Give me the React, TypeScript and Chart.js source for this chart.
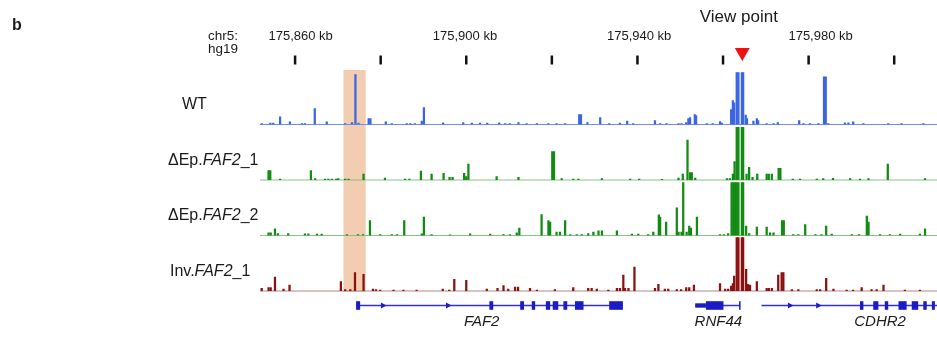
import React, { useEffect, useRef } from 'react';
import { Chart, registerables } from 'chart.js';

Chart.register(...registerables);

const FONT = '"Liberation Sans", Arial, Helvetica, sans-serif';

// genomic window (kb on chr5, hg19)
const X_MIN = 175851.8;
const X_MAX = 176010;
const RULER_TICKS = [175860, 175880, 175900, 175920, 175940, 175960, 175980, 176000];
const RULER_LABELS = ['175,860 kb', '175,900 kb', '175,940 kb', '175,980 kb'];
const RULER_LABEL_POS = [175861.3, 175899.7, 175940.4, 175982.8];
const VIEW_POINT = 175964.5;
const HIGHLIGHT = [175871.3, 175876.5];

// 4C signal: [position kb, signal]
const WT_SIGNAL: [number, number][] = [
  [175852.2, 1], [175854.2, 1.5], [175854.9, 1.5], [175856.5, 7.7], [175858.8, 2.7], [175861.6, 1], [175862.3, 1],
  [175864.6, 16], [175867.4, 2.7], [175871.7, 1], [175873.3, 2], [175874.1, 50], [175874.8, 1.5], [175877.2, 6],
  [175877.6, 6], [175881.2, 2.7], [175882.6, 1], [175886.1, 1], [175886.9, 1], [175888.0, 1], [175889.6, 3.3],
  [175890.1, 17], [175894.6, 1.7], [175899.3, 2], [175901.3, 1.5], [175903.2, 1.5], [175904.9, 1.5], [175907.7, 1.7],
  [175909.1, 1], [175910.2, 1], [175912.2, 2], [175914.1, 1], [175916.5, 1], [175919.2, 0.8], [175921.1, 0.8],
  [175923.1, 0.8], [175926.4, 10], [175926.8, 10], [175928.3, 2], [175931.3, 7], [175933.4, 1], [175935.9, 1.5],
  [175937.6, 3.3], [175939.0, 1], [175944.1, 4], [175945.3, 1], [175946.8, 1], [175949.6, 1], [175950.3, 1],
  [175951.4, 2], [175951.9, 6], [175952.3, 7], [175953.4, 10], [175953.7, 9], [175956.2, 1], [175957.6, 1],
  [175959.3, 3], [175959.7, 1.5], [175961.9, 15], [175962.3, 24], [175962.6, 21.7], [175963.2, 52], [175963.6, 52],
  [175964.4, 52], [175964.7, 52], [175965.3, 9.3], [175965.6, 6], [175967.1, 3.3], [175967.9, 6], [175968.2, 4],
  [175970.2, 1], [175971.8, 1], [175972.8, 2], [175977.8, 4], [175978.8, 1], [175980.3, 1], [175982.3, 1],
  [175983.6, 47.7], [175984.0, 47.7], [175984.6, 1], [175988.5, 1.7], [175989.3, 1.7], [175990.4, 2.7], [175992.8, 1],
  [175998.6, 1], [176001.7, 0.8], [176006.8, 0.8],
];

const DEP1_SIGNAL: [number, number][] = [
  [175853.8, 9.3], [175854.2, 9.3], [175856.5, 1], [175863.7, 9.3], [175864.7, 1.3], [175867.0, 1], [175867.8, 1],
  [175868.6, 1], [175869.6, 1], [175870.1, 1.3], [175871.7, 1], [175872.5, 0.8], [175876.0, 6], [175881.0, 2],
  [175885.7, 0.8], [175886.7, 0.8], [175889.4, 9], [175891.9, 6], [175894.7, 6.7], [175896.1, 2.7], [175896.8, 2.7],
  [175899.5, 6.7], [175900.0, 3.3], [175900.5, 16], [175907.1, 3.3], [175912.2, 2.7], [175920.1, 28.3], [175920.5, 28.3],
  [175922.3, 1.3], [175925.0, 1], [175926.2, 1], [175931.7, 1.3], [175938.3, 1], [175940.4, 1], [175945.7, 0.7],
  [175949.6, 2], [175950.6, 6], [175951.7, 40], [175952.3, 7.3], [175952.7, 7.3], [175953.5, 2], [175960.9, 1.3],
  [175961.6, 1.3], [175962.3, 6], [175962.7, 18.3], [175963.2, 52.7], [175963.6, 52.7], [175964.4, 52.7], [175964.7, 52.7],
  [175965.5, 6], [175966.1, 12.7], [175966.9, 2.7], [175968.0, 6], [175970.2, 6], [175970.7, 6], [175971.4, 6],
  [175973.0, 11.7], [175973.4, 11.7], [175976.3, 0.8], [175978.0, 0.8], [175981.9, 1], [175983.4, 1.3], [175985.7, 1.7],
  [175989.7, 1.3], [175992.0, 1], [175994.0, 1.3], [175998.5, 16], [176007.2, 1.3],
];

const DEP2_SIGNAL: [number, number][] = [
  [175853.8, 2.7], [175854.3, 2.7], [175855.3, 6.7], [175856.0, 2], [175858.4, 2], [175862.3, 1.7], [175863.1, 1.7],
  [175865.1, 1.3], [175866.2, 1.3], [175872.1, 1], [175874.7, 1], [175875.9, 1], [175877.5, 15], [175879.9, 1],
  [175882.6, 1], [175883.8, 1], [175885.5, 15], [175889.6, 1.7], [175890.1, 18.3], [175891.9, 1], [175896.2, 0.7],
  [175900.9, 1.7], [175905.6, 1.3], [175908.7, 1], [175910.2, 1], [175911.8, 2.7], [175912.4, 7.3], [175917.6, 21],
  [175919.2, 15], [175919.6, 13.3], [175921.1, 3.3], [175921.9, 3.3], [175923.1, 15], [175924.3, 1], [175925.8, 1],
  [175927.0, 1], [175928.5, 2], [175929.7, 3.3], [175930.9, 4.7], [175931.7, 4.7], [175935.2, 4.7], [175938.7, 1.3],
  [175940.2, 1.3], [175942.5, 1], [175943.7, 3.3], [175945.0, 20.7], [175945.3, 18.3], [175946.7, 13.3], [175949.2, 27.7],
  [175949.6, 3.3], [175950.3, 3.3], [175950.7, 53], [175951.5, 3.3], [175952.1, 9.3], [175952.5, 7.3], [175953.9, 18.3],
  [175959.3, 1], [175960.2, 1], [175961.2, 2], [175962.0, 53], [175962.4, 53], [175962.8, 53], [175963.2, 53],
  [175963.6, 53], [175964.4, 53], [175964.7, 53], [175965.4, 9.3], [175966.1, 2], [175967.9, 8.3], [175970.2, 8.3],
  [175971.0, 2.7], [175971.8, 2.7], [175973.8, 15], [175974.2, 15], [175976.4, 1], [175977.6, 1], [175979.2, 11],
  [175981.6, 1], [175983.0, 1], [175984.1, 9.3], [175985.4, 1.3], [175990.1, 1], [175991.8, 1], [175993.6, 19.3],
  [175994.0, 13.3], [175996.7, 1], [175999.0, 1], [176001.4, 1.3], [176006.0, 1.3], [176007.2, 6.7],
];

const INV1_SIGNAL: [number, number][] = [
  [175852.2, 2.7], [175853.8, 3.3], [175854.3, 3.3], [175855.3, 14], [175857.3, 2], [175858.7, 6], [175870.7, 9.3],
  [175871.7, 1.3], [175872.9, 1.3], [175874.0, 18.3], [175876.0, 16.7], [175878.2, 2], [175878.9, 1.3], [175879.9, 1],
  [175883.0, 1], [175885.3, 1], [175888.4, 1], [175894.5, 2], [175896.0, 1], [175897.2, 11.7], [175900.0, 10.7],
  [175904.8, 2], [175907.3, 2.7], [175908.7, 5.3], [175909.8, 2], [175911.4, 4], [175912.1, 4], [175914.9, 2.7],
  [175916.5, 1], [175920.7, 1.3], [175925.0, 3.3], [175928.5, 2.7], [175929.3, 2.7], [175930.5, 2], [175933.2, 1],
  [175935.2, 2.7], [175935.9, 2.7], [175936.7, 16], [175937.1, 2.7], [175937.9, 2.7], [175939.3, 24], [175944.1, 2.7],
  [175944.9, 6.7], [175946.4, 2], [175947.2, 2], [175949.2, 1.3], [175950.2, 1.3], [175951.4, 3.3], [175952.1, 3.3],
  [175953.2, 6], [175959.3, 7.3], [175960.5, 2], [175961.2, 2], [175961.9, 5], [175962.3, 7.3], [175962.6, 15],
  [175963.2, 53.3], [175963.6, 53.3], [175964.4, 53.3], [175964.7, 53.3], [175965.4, 21.7], [175965.8, 6.7], [175966.3, 6],
  [175967.9, 9.3], [175970.2, 2.7], [175970.7, 2.7], [175971.4, 2.7], [175972.9, 16], [175973.7, 18.3], [175974.1, 18.3],
  [175976.1, 1.3], [175977.6, 1.3], [175981.9, 1.3], [175982.7, 1.3], [175984.1, 12.7], [175985.8, 2], [175988.9, 1],
  [175990.4, 1], [175992.4, 3.3], [175994.7, 1.3], [175995.9, 1.3], [175997.5, 6], [176002.5, 1], [176006.0, 1],
];

// track scale maxima (signal units)
const TRACK_MAX = [55, 55.5, 55.5, 55.5];
const GENE_TRACK_MAX = 46;

// gene models (kb)
const FAF2_SPAN = [175874.25, 175936.6];
const FAF2_EXONS: [number, number][] = [
  [175874.25, 175875.2], [175905.4, 175906.3], [175912.6, 175913.5], [175915.3, 175916.1], [175918.6, 175919.6],
  [175920.2, 175921.5], [175922.7, 175923.6], [175925.4, 175927.4], [175933.4, 175936.6],
];
const FAF2_ARROWS = [175881.0, 175896.2];
const RNF44_SPAN = [175953.5, 175964.0];
const RNF44_UTRS: [number, number][] = [[175953.5, 175956.0]];
const RNF44_EXONS: [number, number][] = [[175956.0, 175960.1], [175963.75, 175964.1]];
const CDHR2_SPAN = [175969.0, 176010];
const CDHR2_EXONS: [number, number][] = [
  [175992.0, 175992.8], [175995.1, 175996.3], [175997.8, 175998.6], [176001.0, 176002.9], [176004.1, 176005.6],
  [176006.8, 176007.6], [176008.8, 176009.5],
];
const CDHR2_ARROWS = [175976.1, 175982.7];
const GENE_NAMES = ['FAF2', 'RNF44', 'CDHR2'];
const GENE_LABEL_POS = [175903.6, 175958.9, 175996.7];

type Seg = [string, boolean];
const TRACKS = [
  { axis: 'yWT', data: WT_SIGNAL, color: '#3b65e2', base: '#6f8ff0', labelX: 182, label: [['WT', false]] as Seg[] },
  { axis: 'yD1', data: DEP1_SIGNAL, color: '#138a13', base: '#86c386', labelX: 168, label: [['ΔEp.', false], ['FAF2', true], ['_1', false]] as Seg[] },
  { axis: 'yD2', data: DEP2_SIGNAL, color: '#138a13', base: '#86c386', labelX: 168, label: [['ΔEp.', false], ['FAF2', true], ['_2', false]] as Seg[] },
  { axis: 'yInv', data: INV1_SIGNAL, color: '#8c1010', base: '#b88585', labelX: 170, label: [['Inv.', false], ['FAF2', true], ['_1', false]] as Seg[] },
];

const GENE_COLOR = '#1c1cc6';

function drawGeneModel(chart: any, span: number[], exons: [number, number][], utrs: [number, number][], arrows: number[]) {
  const { ctx, scales } = chart;
  const x = scales.x;
  const yLine = scales.yGene.getPixelForValue(31.5);
  ctx.save();
  ctx.strokeStyle = '#3030d6';
  ctx.lineWidth = 1.5;
  ctx.beginPath();
  ctx.moveTo(x.getPixelForValue(span[0]), yLine);
  ctx.lineTo(x.getPixelForValue(span[1]), yLine);
  ctx.stroke();
  ctx.fillStyle = GENE_COLOR;
  for (const [s, e] of utrs) {
    const a = x.getPixelForValue(s), b = x.getPixelForValue(e);
    ctx.fillRect(a, yLine - 2.2, b - a, 4.4);
  }
  for (const [s, e] of exons) {
    const a = x.getPixelForValue(s), b = x.getPixelForValue(e);
    ctx.fillRect(a, yLine - 4.3, Math.max(b - a, 1.5), 8.6);
  }
  for (const p of arrows) {
    const px = x.getPixelForValue(p);
    ctx.beginPath();
    ctx.moveTo(px - 4, yLine - 3);
    ctx.lineTo(px + 1.5, yLine);
    ctx.lineTo(px - 4, yLine + 3);
    ctx.closePath();
    ctx.fill();
  }
  ctx.restore();
}

const overlayPlugin = {
  id: 'browserOverlay',
  beforeDatasetsDraw(chart: any) {
    const { ctx, scales, chartArea } = chart;
    const x = scales.x;
    ctx.save();
    const x0 = x.getPixelForValue(HIGHLIGHT[0]);
    const x1 = x.getPixelForValue(HIGHLIGHT[1]);
    const top = scales.yWT.top + 0.5;
    const bottom = scales.yInv.bottom + 1;
    ctx.fillStyle = '#f2cdb1';
    ctx.fillRect(x0, top, x1 - x0, bottom - top);
    for (const t of TRACKS) {
      const y = scales[t.axis].getPixelForValue(0);
      ctx.strokeStyle = t.base;
      ctx.lineWidth = 1;
      ctx.beginPath();
      ctx.moveTo(chartArea.left, y);
      ctx.lineTo(chartArea.right, y);
      ctx.stroke();
    }
    ctx.restore();
  },
  afterDatasetsDraw(chart: any) {
    const { ctx, scales } = chart;
    const x = scales.x;
    ctx.save();
    ctx.fillStyle = '#1a1a1a';
    ctx.textBaseline = 'alphabetic';
    // panel letter
    ctx.font = `bold 16px ${FONT}`;
    ctx.textAlign = 'left';
    ctx.fillText('b', 12, 29.5);
    // ruler
    ctx.font = `13.5px ${FONT}`;
    ctx.fillText('chr5:', 208, 40);
    ctx.fillText('hg19', 208, 53);
    ctx.font = `13px ${FONT}`;
    ctx.textAlign = 'center';
    RULER_LABELS.forEach((l, i) => ctx.fillText(l, x.getPixelForValue(RULER_LABEL_POS[i]), 40));
    ctx.fillStyle = '#111';
    for (const t of RULER_TICKS) {
      const px = x.getPixelForValue(t);
      ctx.fillRect(px - 1.25, 55.5, 2.5, 9);
    }
    // view point
    ctx.fillStyle = '#1a1a1a';
    ctx.font = `17px ${FONT}`;
    ctx.fillText('View point', x.getPixelForValue(175963.7), 21.5);
    const vp = x.getPixelForValue(VIEW_POINT);
    ctx.fillStyle = '#ee1111';
    ctx.beginPath();
    ctx.moveTo(vp - 7.5, 48);
    ctx.lineTo(vp + 7.5, 48);
    ctx.lineTo(vp, 61);
    ctx.closePath();
    ctx.fill();
    // track labels
    ctx.fillStyle = '#1a1a1a';
    ctx.textAlign = 'left';
    for (const t of TRACKS) {
      const y = scales[t.axis].getPixelForValue(0) - 15.5;
      let cx = t.labelX;
      for (const [txt, it] of t.label) {
        ctx.font = `${it ? 'italic ' : ''}16px ${FONT}`;
        ctx.fillText(txt, cx, y);
        cx += ctx.measureText(txt).width;
      }
    }
    // genes
    drawGeneModel(chart, FAF2_SPAN, FAF2_EXONS, [], FAF2_ARROWS);
    drawGeneModel(chart, RNF44_SPAN, RNF44_EXONS, RNF44_UTRS, []);
    drawGeneModel(chart, CDHR2_SPAN, CDHR2_EXONS, [], CDHR2_ARROWS);
    ctx.fillStyle = '#1a1a1a';
    ctx.font = `italic 15px ${FONT}`;
    ctx.textAlign = 'center';
    const yLab = scales.yGene.getPixelForValue(11);
    GENE_NAMES.forEach((g, i) => ctx.fillText(g, x.getPixelForValue(GENE_LABEL_POS[i]), yLab));
    ctx.restore();
  },
};

export default function App() {
  const ref = useRef<HTMLCanvasElement | null>(null);
  useEffect(() => {
    document.body.style.margin = '0';
    const canvas = ref.current;
    if (!canvas) return;
    const yAxis = (max: number, weight: number) => ({
      type: 'linear' as const,
      position: 'right' as const,
      stack: 'tracks',
      stackWeight: weight,
      min: 0,
      max,
      display: false,
    });
    const chart = new Chart(canvas, {
      type: 'bar',
      data: {
        datasets: TRACKS.map((t) => ({
          data: t.data.map(([px, v]) => ({ x: px, y: v })),
          yAxisID: t.axis,
          backgroundColor: t.color,
          borderWidth: 0,
          barThickness: 1.6,
          grouped: false,
        })),
      },
      options: {
        responsive: false,
        animation: false,
        events: [],
        layout: { padding: { left: 260, right: 0, top: 69.5, bottom: 0 } },
        plugins: { legend: { display: false }, tooltip: { enabled: false } },
        scales: {
          x: { type: 'linear', min: X_MIN, max: X_MAX, offset: false, display: false },
          yWT: yAxis(TRACK_MAX[0], 55),
          yD1: yAxis(TRACK_MAX[1], 55.5),
          yD2: yAxis(TRACK_MAX[2], 55.5),
          yInv: yAxis(TRACK_MAX[3], 55.5),
          yGene: yAxis(GENE_TRACK_MAX, 46),
        },
      } as any,
      plugins: [overlayPlugin],
    });
    return () => chart.destroy();
  }, []);
  return (
    <div style={{ width: 937, height: 337 }}>
      <canvas ref={ref} width={937} height={337} style={{ display: 'block' }} />
    </div>
  );
}
